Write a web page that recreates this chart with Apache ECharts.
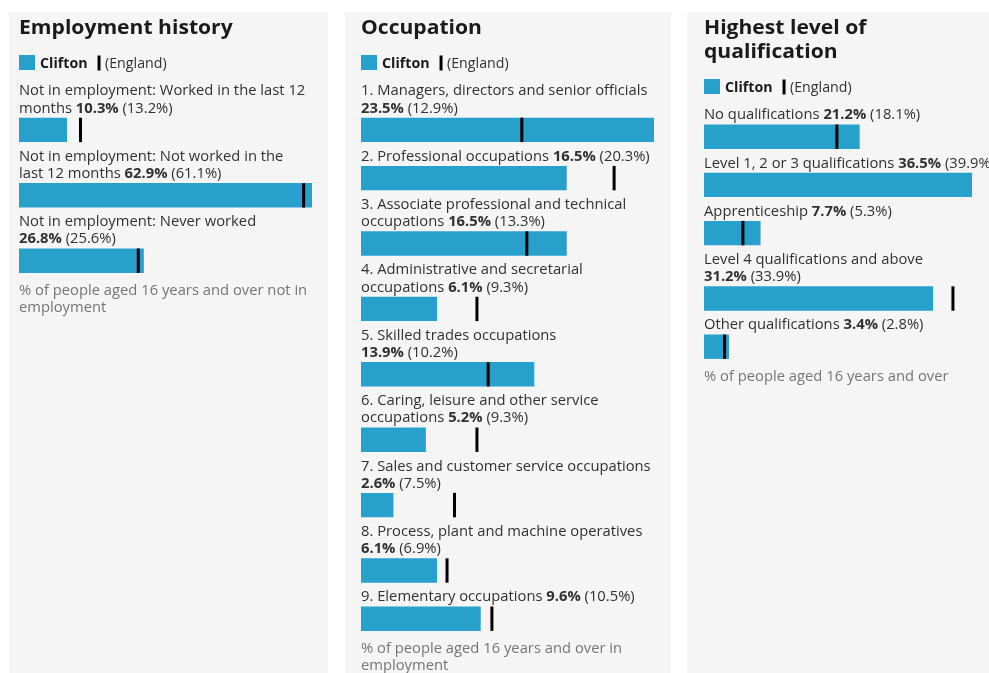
<!DOCTYPE html>
<html>
<head>
<meta charset="utf-8">
<script src="https://cdn.jsdelivr.net/npm/echarts@6/dist/echarts.min.js"></script>
<style>
html,body{margin:0;padding:0;background:#ffffff;}
#c{width:989px;height:673px;}
</style>
</head>
<body>
<div id="c"></div>
<script>
// ---------------- DATA ----------------
const areaName = 'Clifton';
const compName = 'England';

const panelTitles = ['Employment history', 'Occupation', 'Highest level of qualification'];
const panelFooters = [
  '% of people aged 16 years and over not in employment',
  '% of people aged 16 years and over in employment',
  '% of people aged 16 years and over'
];

const empCategories = [
  'Not in employment: Worked in the last 12 months',
  'Not in employment: Not worked in the last 12 months',
  'Not in employment: Never worked'
];
const empClifton = [10.3, 62.9, 26.8];
const empEngland = [13.2, 61.1, 25.6];

const occCategories = [
  '1. Managers, directors and senior officials',
  '2. Professional occupations',
  '3. Associate professional and technical occupations',
  '4. Administrative and secretarial occupations',
  '5. Skilled trades occupations',
  '6. Caring, leisure and other service occupations',
  '7. Sales and customer service occupations',
  '8. Process, plant and machine operatives',
  '9. Elementary occupations'
];
const occClifton = [23.5, 16.5, 16.5, 6.1, 13.9, 5.2, 2.6, 6.1, 9.6];
const occEngland = [12.9, 20.3, 13.3, 9.3, 10.2, 9.3, 7.5, 6.9, 10.5];

const qualCategories = [
  'No qualifications',
  'Level 1, 2 or 3 qualifications',
  'Apprenticeship',
  'Level 4 qualifications and above',
  'Other qualifications'
];
const qualClifton = [21.2, 36.5, 7.7, 31.2, 3.4];
const qualEngland = [18.1, 39.9, 5.3, 33.9, 2.8];

// ---------------- STYLE / LAYOUT ----------------
const FONT = '"Open Sans", "DejaVu Sans", sans-serif';
const BAR_COLOR = '#27a0cc';
const PANEL_BG = '#f5f5f5';
const TEXT_COLOR = '#323132';
const TITLE_COLOR = '#1a1a1a';
const FOOT_COLOR = '#757575';

const TEXT_SX = 1.055;     // horizontal text stretch to match reference rendering
const LEGEND_SX = 1.015;
const TEXT_DY = 1.5;
const CONTENT_W = 293;
const LINE_H = 17.2;
const BAR_H = 24.4;
const GAP_BAR = 10.5;    // last label line centre -> bar top
const GAP_LABEL = 13.3;  // bar bottom -> next label centre
const GAP_FOOT = 16.5;

const panelsLayout = [
  { x0: 19,  bgX: 9,   bgW: 319, wrapW: 291 },
  { x0: 361, bgX: 345, bgW: 326, wrapW: 291 },
  { x0: 704, bgX: 687, bgW: 340, wrapW: 299 }
];
const panelData = [
  { cats: empCategories, vals: empClifton, eng: empEngland },
  { cats: occCategories, vals: occClifton, eng: occEngland },
  { cats: qualCategories, vals: qualClifton, eng: qualEngland }
];

// ---------------- TEXT MEASURE / WRAP ----------------
const ctx = document.createElement('canvas').getContext('2d');
function tw(text, bold, size) {
  ctx.font = (bold ? 'bold ' : '') + size + 'px ' + FONT;
  return ctx.measureText(text).width;
}
function wrapTokens(tokens, maxW, size, sx) {
  const lines = [];
  let cur = [], w = 0;
  tokens.forEach(tok => {
    const sp = tw(' ', tok.segs[0].b, size) * sx;
    const tokW = tok.segs.reduce((s, g) => s + tw(g.t, g.b, size), 0) * sx;
    if (cur.length && w + sp + tokW > maxW) { lines.push(cur); cur = []; w = 0; }
    if (cur.length) { cur.push({ t: ' ', b: tok.segs[0].b }); w += sp; }
    tok.segs.forEach(g => cur.push({ t: g.t, b: g.b }));
    w += tokW;
  });
  if (cur.length) lines.push(cur);
  return lines;
}
function wordsOf(text, bold) {
  return text.split(' ').map(w => ({ segs: [{ t: w, b: bold }] }));
}
function toRich(line) {
  const merged = [];
  line.forEach(s => {
    const last = merged[merged.length - 1];
    if (last && last.b === s.b) last.t += s.t; else merged.push({ t: s.t, b: s.b });
  });
  return merged.map(s => '{' + (s.b ? 'b' : 'r') + '|' + s.t + '}').join('');
}
const pct = v => v.toFixed(1) + '%';

// ---------------- BUILD ----------------
const graphics = [];
const grids = [], xAxes = [], yAxes = [], series = [];

function addText(x, y, rich, size, color, sx) {
  graphics.push({
    type: 'text', x: x, y: y + TEXT_DY, z: 10, silent: true,
    scaleX: sx, scaleY: 1,
    style: {
      text: rich,
      verticalAlign: 'middle', align: 'left',
      rich: {
        r: { fontFamily: FONT, fontSize: size, fontWeight: 'normal', fill: color, color: color },
        b: { fontFamily: FONT, fontSize: size, fontWeight: 'bold', fill: color, color: color }
      }
    }
  });
}

panelsLayout.forEach((pl, pi) => {
  const pd = panelData[pi];
  const x0 = pl.x0;
  // background
  graphics.push({ type: 'rect', z: 0, silent: true,
    shape: { x: pl.bgX, y: 12, width: pl.bgW, height: 700 },
    style: { fill: PANEL_BG } });

  // title
  const tLines = wrapTokens(wordsOf(panelTitles[pi], true), pl.wrapW, 20, TEXT_SX);
  tLines.forEach((ln, i) => addText(x0, 27 + i * 24, toRich(ln), 20, TITLE_COLOR, TEXT_SX));
  const extra = (tLines.length - 1) * 24;

  // legend
  const lc = 62.5 + extra;
  graphics.push({ type: 'rect', z: 10, silent: true,
    shape: { x: x0, y: lc - 7.5, width: 16, height: 15 }, style: { fill: BAR_COLOR } });
  addText(x0 + 21, lc, '{b|' + areaName + '}', 14, TITLE_COLOR, LEGEND_SX);
  const mx = x0 + 21 + tw(areaName, true, 14) * LEGEND_SX + 10;
  graphics.push({ type: 'rect', z: 10, silent: true,
    shape: { x: mx, y: lc - 7, width: 3, height: 15 }, style: { fill: '#000000' } });
  addText(mx + 7.5, lc, '{r|(' + compName + ')}', 14, TEXT_COLOR, LEGEND_SX);

  // scale: common maximum of both series in the panel
  const scaleMax = Math.max(Math.max.apply(null, pd.vals), Math.max.apply(null, pd.eng));

  let labelC = 90 + extra;
  let barBottom = 0;
  pd.cats.forEach((cat, ri) => {
    const tokens = wordsOf(cat, false);
    tokens.push({ segs: [{ t: pct(pd.vals[ri]), b: true }, { t: ' (' + pct(pd.eng[ri]) + ')', b: false }] });
    const lines = wrapTokens(tokens, pl.wrapW, 14, TEXT_SX);
    lines.forEach((ln, li) => addText(x0, labelC + li * LINE_H, toRich(ln), 14, TEXT_COLOR, TEXT_SX));
    const barTop = labelC + (lines.length - 1) * LINE_H + GAP_BAR;
    const gi = grids.length;
    grids.push({ left: x0, top: barTop, width: CONTENT_W, height: BAR_H,
                 containLabel: false, outerBoundsMode: 'none' });
    xAxes.push({ type: 'value', gridIndex: gi, min: 0, max: scaleMax, show: false });
    yAxes.push({ type: 'category', gridIndex: gi, data: [cat], show: false });
    series.push({
      type: 'bar', name: areaName, xAxisIndex: gi, yAxisIndex: gi,
      data: [pd.vals[ri]], barWidth: '100%', itemStyle: { color: BAR_COLOR },
      silent: true, z: 2
    });
    series.push({
      type: 'scatter', name: compName, xAxisIndex: gi, yAxisIndex: gi,
      data: [[pd.eng[ri], 0]], symbol: 'rect', symbolSize: [3, BAR_H],
      itemStyle: { color: '#000000', opacity: 1 }, silent: true, z: 3
    });
    barBottom = barTop + BAR_H;
    labelC = barBottom + GAP_LABEL;
  });

  // footer
  const fLines = wrapTokens(wordsOf(panelFooters[pi], false), pl.wrapW, 14, TEXT_SX);
  fLines.forEach((ln, i) => addText(x0, barBottom + GAP_FOOT + i * LINE_H, toRich(ln), 14, FOOT_COLOR, TEXT_SX));
});

const chart = echarts.init(document.getElementById('c'), null, { renderer: 'canvas' });
chart.setOption({
  animation: false,
  backgroundColor: '#ffffff',
  graphic: { elements: graphics },
  grid: grids,
  xAxis: xAxes,
  yAxis: yAxes,
  series: series
});
</script>
</body>
</html>
